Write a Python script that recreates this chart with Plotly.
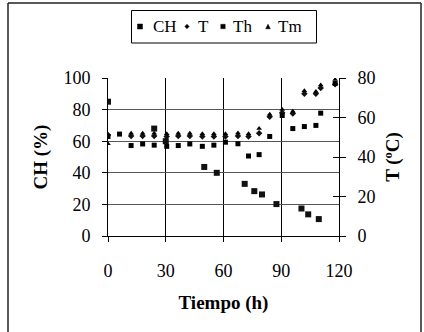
import plotly.graph_objects as go

# ---- data ----
ch_x = [0, 24, 30, 50, 56.5, 71, 76, 80, 87.5, 100.5, 104, 109.5]
ch_y = [85, 68, 60, 43.7, 40, 33, 28.4, 26.3, 20.2, 17.4, 13.7, 10.7]

t_x = [0, 12, 18, 24, 30.5, 36.5, 42.5, 49, 55, 61, 67.5, 73, 78.5, 84, 90.5, 96, 102, 108, 110.5, 118]
t_y = [51.2, 50.6, 50.6, 50.6, 50.4, 50.6, 50.6, 50.4, 50.4, 50.4, 50.6, 50.4, 52.0, 60.4, 62.4, 62.0, 72.0, 72.0, 74.9, 76.8]

tm_x = [0, 12, 18, 24, 30.5, 36.5, 42.5, 49, 55, 61, 67.5, 73, 78.5, 84, 90.5, 96, 102, 108, 110.5, 118]
tm_y = [46.7, 52.0, 52.0, 52.0, 51.8, 52.0, 52.0, 51.8, 51.8, 51.8, 52.2, 51.8, 54.4, 61.6, 64.0, 63.2, 73.6, 73.2, 76.4, 79.2]

th_x = [0, 6, 12, 18, 24, 30.5, 36.5, 42.5, 49, 55, 61, 67.5, 73, 78.5, 84, 90.5, 96, 102, 108, 110.5, 118]
th_y = [50.4, 51.6, 45.8, 46.6, 46.0, 45.4, 45.8, 46.6, 45.4, 46.0, 47.5, 46.7, 40.5, 41.2, 50.4, 61.0, 54.4, 55.4, 56.0, 62.2, 77.2]

series_names = ["CH", "T", "Th", "Tm"]

x_ticks = [0, 30, 60, 90, 120]
left_ticks = [0, 20, 40, 60, 80, 100]
right_ticks = [0, 20, 40, 60, 80]

FONT = "Liberation Serif"
W, H = 424, 332
ML, MR, MT, MB = 108, 85, 78, 96
PW, PH = W - ML - MR, H - MT - MB


def px2paper_x(px):
    return (px - ML) / PW


def py2paper_y(py):
    return 1 - (py - MT) / PH


fig = go.Figure()
fig.add_trace(go.Scatter(x=ch_x, y=ch_y, mode="markers", name=series_names[0], showlegend=False,
                         marker=dict(symbol="square", size=6, color="#111"), yaxis="y"))
fig.add_trace(go.Scatter(x=t_x, y=t_y, mode="markers", name=series_names[1], showlegend=False,
                         marker=dict(symbol="diamond", size=5, color="#111"), yaxis="y2"))
fig.add_trace(go.Scatter(x=th_x, y=th_y, mode="markers", name=series_names[2], showlegend=False,
                         marker=dict(symbol="square", size=5, color="#000"), yaxis="y2"))
fig.add_trace(go.Scatter(x=tm_x, y=tm_y, mode="markers", name=series_names[3], showlegend=False,
                         marker=dict(symbol="triangle-up", size=5, color="#000"), yaxis="y2"))
# dummy trace to make yaxis3 render
fig.add_trace(go.Scatter(x=[None], y=[None], yaxis="y3", showlegend=False, hoverinfo="skip"))

fig.update_layout(
    width=W, height=H,
    margin=dict(l=ML, r=MR, t=MT, b=MB, pad=0),
    paper_bgcolor="white", plot_bgcolor="white",
    font=dict(family=FONT, size=17, color="black"),
    showlegend=False,
    xaxis=dict(range=[0, 120], tickvals=x_ticks, showgrid=True, gridcolor="black", gridwidth=1,
               showline=True, linecolor="black", linewidth=1, ticks="outside", ticklen=5,
               tickcolor="black", ticklabelstandoff=13, zeroline=False,
               tickfont=dict(family=FONT, size=18),
               title=dict(text="<b>Tiempo (h)</b>", font=dict(family=FONT, size=19), standoff=16)),
    yaxis=dict(range=[0, 100], tickvals=left_ticks, showgrid=True, gridcolor="#555", gridwidth=1,
               showline=True, linecolor="black", linewidth=1, ticks="outside", ticklen=5,
               tickcolor="black", ticklabelstandoff=8, zeroline=False,
               tickfont=dict(family=FONT, size=18),
               title=dict(text="<b>CH (%)</b>", font=dict(family=FONT, size=19), standoff=10)),
    yaxis2=dict(range=[0, 80], tickvals=right_ticks, overlaying="y", side="right",
                showgrid=False, showline=True, linecolor="black", linewidth=1,
                ticks="outside", ticklen=6, tickcolor="black", ticklabelstandoff=8, zeroline=False,
                tickfont=dict(family=FONT, size=18),
                title=dict(text="<b>T (ºC)</b>", font=dict(family=FONT, size=19), standoff=11)),
    yaxis3=dict(range=[0, 80], tickvals=right_ticks, overlaying="y", side="right",
                showgrid=False, showline=False, ticks="inside", ticklen=6, tickcolor="black",
                showticklabels=False, zeroline=False),
)

# outer chart frame (top, left, right edges; bottom lies outside the view)
frame = [(8, 3, 421, 3), (8, 3, 8, 332), (421, 3, 421, 332)]
for x0, y0, x1, y1 in frame:
    fig.add_shape(type="line", xref="paper", yref="paper",
                  x0=px2paper_x(x0), y0=py2paper_y(y0), x1=px2paper_x(x1), y1=py2paper_y(y1),
                  line=dict(color="#222", width=1.5), layer="below")

# ---- hand-drawn legend (box, keys, labels) ----
fig.add_shape(type="rect", xref="paper", yref="paper",
              x0=px2paper_x(131.5), x1=px2paper_x(316.5), y0=py2paper_y(43), y1=py2paper_y(10.5),
              line=dict(color="black", width=1), fillcolor="white")

key_cy = 26.5
key_x = [140, 187, 223, 268]
label_x = [150.5, 195.5, 230.5, 275.5]


def sq(cx, cy, h):
    return f"M{px2paper_x(cx-h)},{py2paper_y(cy-h)} L{px2paper_x(cx+h)},{py2paper_y(cy-h)} " \
           f"L{px2paper_x(cx+h)},{py2paper_y(cy+h)} L{px2paper_x(cx-h)},{py2paper_y(cy+h)} Z"


def dia(cx, cy, h):
    return f"M{px2paper_x(cx)},{py2paper_y(cy-h)} L{px2paper_x(cx+h)},{py2paper_y(cy)} " \
           f"L{px2paper_x(cx)},{py2paper_y(cy+h)} L{px2paper_x(cx-h)},{py2paper_y(cy)} Z"


def tri(cx, cy, h):
    return f"M{px2paper_x(cx)},{py2paper_y(cy-h)} L{px2paper_x(cx+h)},{py2paper_y(cy+h)} " \
           f"L{px2paper_x(cx-h)},{py2paper_y(cy+h)} Z"


key_paths = [sq(key_x[0], key_cy, 2.5), dia(key_x[1], key_cy, 2.2),
             sq(key_x[2], key_cy, 2.2), tri(key_x[3], key_cy, 2.3)]
for p in key_paths:
    fig.add_shape(type="path", xref="paper", yref="paper", path=p,
                  line=dict(color="black", width=0.5), fillcolor="black")

for name, lx in zip(series_names, label_x):
    fig.add_annotation(x=px2paper_x(lx), y=py2paper_y(key_cy), xref="paper", yref="paper",
                       text=name, showarrow=False, xanchor="left", yanchor="middle",
                       font=dict(family=FONT, size=17, color="black"))

fig.write_html("out.html")
